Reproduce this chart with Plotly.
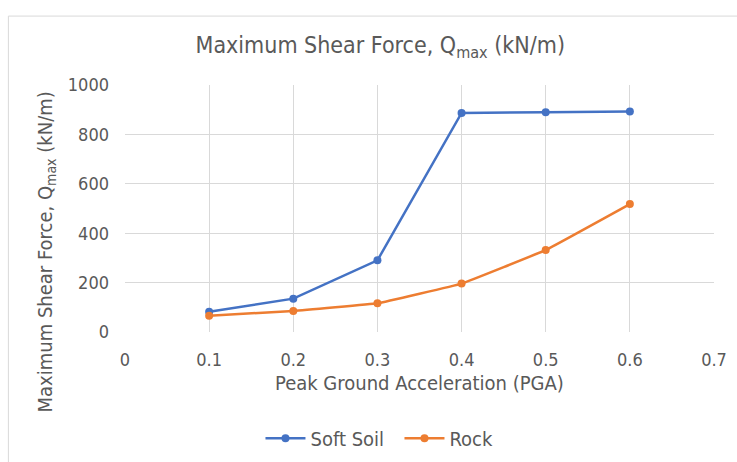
import plotly.graph_objects as go

pga = [0.1, 0.2, 0.3, 0.4, 0.5, 0.6]
soft_soil = [82, 135, 290, 887, 890, 893]
rock = [66, 85, 116, 196, 332, 518]
x_ticks = [0, 0.1, 0.2, 0.3, 0.4, 0.5, 0.6, 0.7]
x_tick_text = ["0", "0.1", "0.2", "0.3", "0.4", "0.5", "0.6", "0.7"]
y_ticks = [0, 200, 400, 600, 800, 1000]

font_family = "DejaVu Sans Condensed, Liberation Sans, Arial, sans-serif"
grey = "#595959"

fig = go.Figure()
fig.add_trace(go.Scatter(x=pga, y=soft_soil, name="Soft Soil", mode="lines+markers",
                         line=dict(color="#4472C4", width=2.5),
                         marker=dict(size=8, color="#4472C4")))
fig.add_trace(go.Scatter(x=pga, y=rock, name="Rock", mode="lines+markers",
                         line=dict(color="#ED7D31", width=2.5, shape="spline", smoothing=0.2),
                         marker=dict(size=8, color="#ED7D31")))

fig.update_layout(
    width=737, height=462,
    margin=dict(l=125, r=23, t=85, b=130, autoexpand=False),
    paper_bgcolor="white", plot_bgcolor="white",
    font=dict(family=font_family, color=grey, size=16),
    title=dict(text="Maximum Shear Force, Q<sub>max</sub> (kN/m)", x=0.516, xanchor="center",
               y=0.903, yanchor="middle", font=dict(size=23, color=grey)),
    xaxis=dict(range=[0, 0.7], tickvals=x_ticks, ticktext=x_tick_text, showgrid=True,
               gridcolor="#d9d9d9", gridwidth=1, zeroline=False, showline=False, ticks="",
               tickfont=dict(size=18, color=grey), ticklabelstandoff=15, automargin=False),
    yaxis=dict(range=[0, 1000], tickvals=y_ticks, showgrid=True, gridcolor="#d9d9d9", gridwidth=1,
               zeroline=False, showline=False, ticks="", tickfont=dict(size=18, color=grey),
               ticklabelstandoff=15, automargin=False),
    legend=dict(orientation="h", x=0.466, xanchor="center", y=-0.43, yanchor="middle",
                font=dict(size=20, color=grey), itemwidth=40, entrywidth=84),
    showlegend=True,
)

fig.add_annotation(text="Peak Ground Acceleration (PGA)", xref="paper", yref="paper",
                   x=0.5, y=-0.206, xanchor="center", yanchor="middle", showarrow=False,
                   font=dict(size=20, color=grey))
fig.add_annotation(text="Maximum Shear Force, Q<sub>max</sub> (kN/m)", xref="paper", yref="paper",
                   x=-0.135, y=0.324, xanchor="center", yanchor="middle", showarrow=False,
                   textangle=-90, font=dict(size=20, color=grey))

fig.add_shape(type="rect", xref="paper", yref="paper", x0=-0.198, x1=1.1, y0=-0.6, y1=1.279,
              line=dict(color="#d9d9d9", width=1), fillcolor="rgba(0,0,0,0)", layer="below")
fig.write_html("out.html")
